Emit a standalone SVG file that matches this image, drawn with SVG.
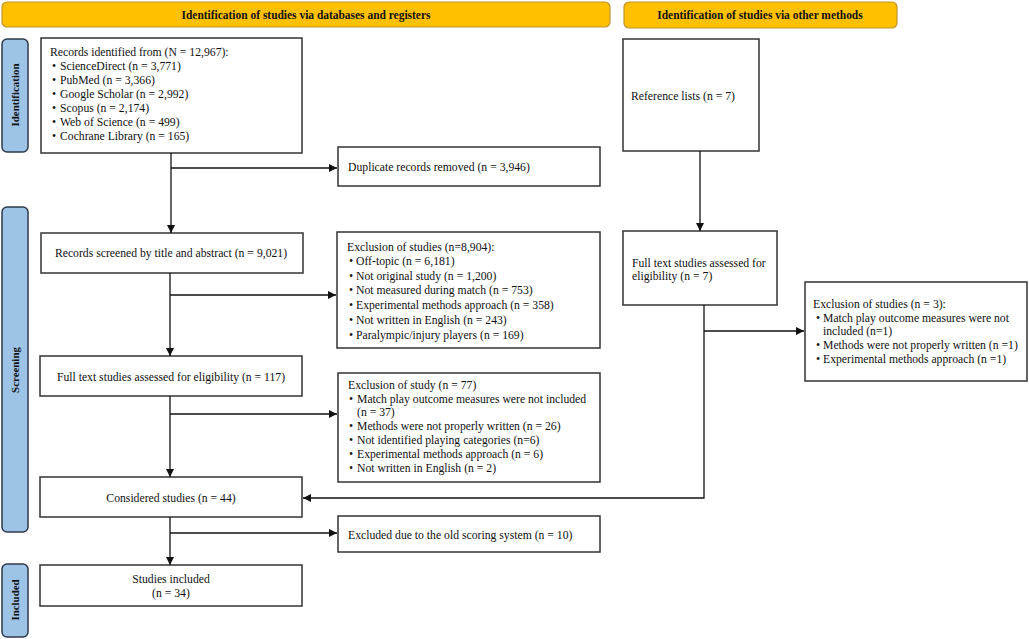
<svg xmlns="http://www.w3.org/2000/svg" width="1029" height="639" viewBox="0 0 1029 639">
<style>
text{font-family:"Liberation Serif","Times New Roman",serif;font-size:11.7px;fill:#111}
.hdr rect{fill:#FFC000;stroke:#C2952A;stroke-width:1.2}
.hdr text{font-weight:bold;font-size:11.45px;text-anchor:middle}
.side rect{fill:#9DC3E6;stroke:#2E3B4A;stroke-width:1.5}
.side text{font-weight:bold;font-size:10.9px;text-anchor:middle}
.box rect{fill:#fff;stroke:#333;stroke-width:1.5}
.c{text-anchor:middle}
#connectors path{fill:none;stroke:#111;stroke-width:1.3}
</style>
<defs>
<marker id="ah" viewBox="0 0 10 10" refX="10" refY="5" markerWidth="8" markerHeight="8" markerUnits="userSpaceOnUse" orient="auto">
<path d="M0,0 L10,5 L0,10 z" fill="#111"/>
</marker>
</defs>
<rect width="1029" height="639" fill="#fff"/>

<g id="hdr1" class="hdr"><rect x="2" y="2" width="608" height="25" rx="5"/><text x="306" y="19">Identification of studies via databases and registers</text></g>
<g id="hdr2" class="hdr"><rect x="624" y="2" width="273" height="26" rx="5"/><text x="760" y="19">Identification of studies via other methods</text></g>

<g id="side-ident" class="side"><rect x="2" y="39" width="26" height="113" rx="5"/><text transform="translate(19,95) rotate(-90)">Identification</text></g>
<g id="side-screen" class="side"><rect x="2" y="207" width="26" height="325" rx="5"/><text transform="translate(19,370) rotate(-90)">Screening</text></g>
<g id="side-incl" class="side"><rect x="2" y="564" width="26" height="73" rx="5"/><text transform="translate(19,600) rotate(-90)">Included</text></g>

<g id="records" class="box"><rect x="41" y="38" width="261" height="115"/>
<text x="50" y="56">Records identified from (N = 12,967):</text>
<text x="52" y="70">•</text><text x="60" y="70">ScienceDirect (n = 3,771)</text>
<text x="52" y="84">•</text><text x="60" y="84">PubMed (n = 3,366)</text>
<text x="52" y="98">•</text><text x="60" y="98">Google Scholar (n = 2,992)</text>
<text x="52" y="112">•</text><text x="60" y="112">Scopus (n = 2,174)</text>
<text x="52" y="126">•</text><text x="60" y="126">Web of Science  (n = 499)</text>
<text x="52" y="140">•</text><text x="60" y="140">Cochrane Library (n = 165)</text>
</g>

<g id="duplicates" class="box"><rect x="338" y="147" width="262" height="39"/>
<text x="348" y="171">Duplicate records removed (n = 3,946)</text></g>

<g id="screened" class="box"><rect x="41" y="233" width="262" height="40"/>
<text x="171" y="257" class="c">Records screened by title and abstract (n = 9,021)</text></g>

<g id="excl1" class="box"><rect x="337" y="232" width="263" height="116"/>
<text x="347" y="251">Exclusion of studies (n=8,904):</text>
<text x="349" y="265">•</text><text x="356" y="265">Off-topic (n = 6,181)</text>
<text x="349" y="280">•</text><text x="356" y="280">Not original study (n = 1,200)</text>
<text x="349" y="294">•</text><text x="356" y="294">Not measured during match (n = 753)</text>
<text x="349" y="309">•</text><text x="356" y="309">Experimental methods approach (n = 358)</text>
<text x="349" y="324">•</text><text x="356" y="324">Not written in English (n = 243)</text>
<text x="349" y="339">•</text><text x="356" y="339">Paralympic/injury players (n = 169)</text>
</g>

<g id="fulltext" class="box"><rect x="40" y="356" width="262" height="40"/>
<text x="171" y="381" class="c">Full text studies assessed for eligibility (n = 117)</text></g>

<g id="excl2" class="box"><rect x="338" y="373" width="262" height="109"/>
<text x="348" y="389">Exclusion of study (n = 77)</text>
<text x="349" y="403">•</text><text x="357" y="403">Match play outcome measures were not included</text>
<text x="357" y="416">(n = 37)</text>
<text x="349" y="430">•</text><text x="357" y="430">Methods were not properly written (n = 26)</text>
<text x="349" y="444">•</text><text x="357" y="444">Not identified playing categories  (n=6)</text>
<text x="349" y="458">•</text><text x="357" y="458">Experimental methods approach (n = 6)</text>
<text x="349" y="472">•</text><text x="357" y="472">Not written in English (n = 2)</text>
</g>

<g id="considered" class="box"><rect x="40" y="477" width="262" height="40"/>
<text x="171" y="502" class="c">Considered studies (n = 44)</text></g>

<g id="oldscoring" class="box"><rect x="338" y="516" width="262" height="36"/>
<text x="348" y="539">Excluded due to the old scoring system (n = 10)</text></g>

<g id="included" class="box"><rect x="40" y="565" width="262" height="41"/>
<text x="171" y="583" class="c">Studies included</text>
<text x="171" y="597" class="c">(n = 34)</text></g>

<g id="reflists" class="box"><rect x="623" y="39" width="136" height="112"/>
<text x="631" y="100">Reference lists (n = 7)</text></g>

<g id="fulltext7" class="box"><rect x="623" y="231" width="154" height="74"/>
<text x="632" y="267">Full text studies assessed for</text>
<text x="632" y="280">eligibility  (n = 7)</text></g>

<g id="excl3" class="box"><rect x="805" y="282" width="222" height="99"/>
<text x="813" y="308">Exclusion of studies (n = 3):</text>
<text x="816" y="322">•</text><text x="823" y="322">Match play outcome measures were not</text>
<text x="823" y="335">included (n=1)</text>
<text x="816" y="349">•</text><text x="823" y="349">Methods were not properly written (n =1)</text>
<text x="816" y="363">•</text><text x="823" y="363">Experimental methods approach (n =1)</text>
</g>

<g id="connectors">
<path d="M171,153 V233" marker-end="url(#ah)"/>
<path d="M171,168 H337" marker-end="url(#ah)"/>
<path d="M170,273 V356" marker-end="url(#ah)"/>
<path d="M170,295 H336" marker-end="url(#ah)"/>
<path d="M170,396 V477" marker-end="url(#ah)"/>
<path d="M170,414 H337" marker-end="url(#ah)"/>
<path d="M170,517 V565" marker-end="url(#ah)"/>
<path d="M170,533 H337" marker-end="url(#ah)"/>
<path d="M700,151 V231" marker-end="url(#ah)"/>
<path d="M704,305 V498 H303" marker-end="url(#ah)"/>
<path d="M704,331 H804" marker-end="url(#ah)"/>
</g>
</svg>
